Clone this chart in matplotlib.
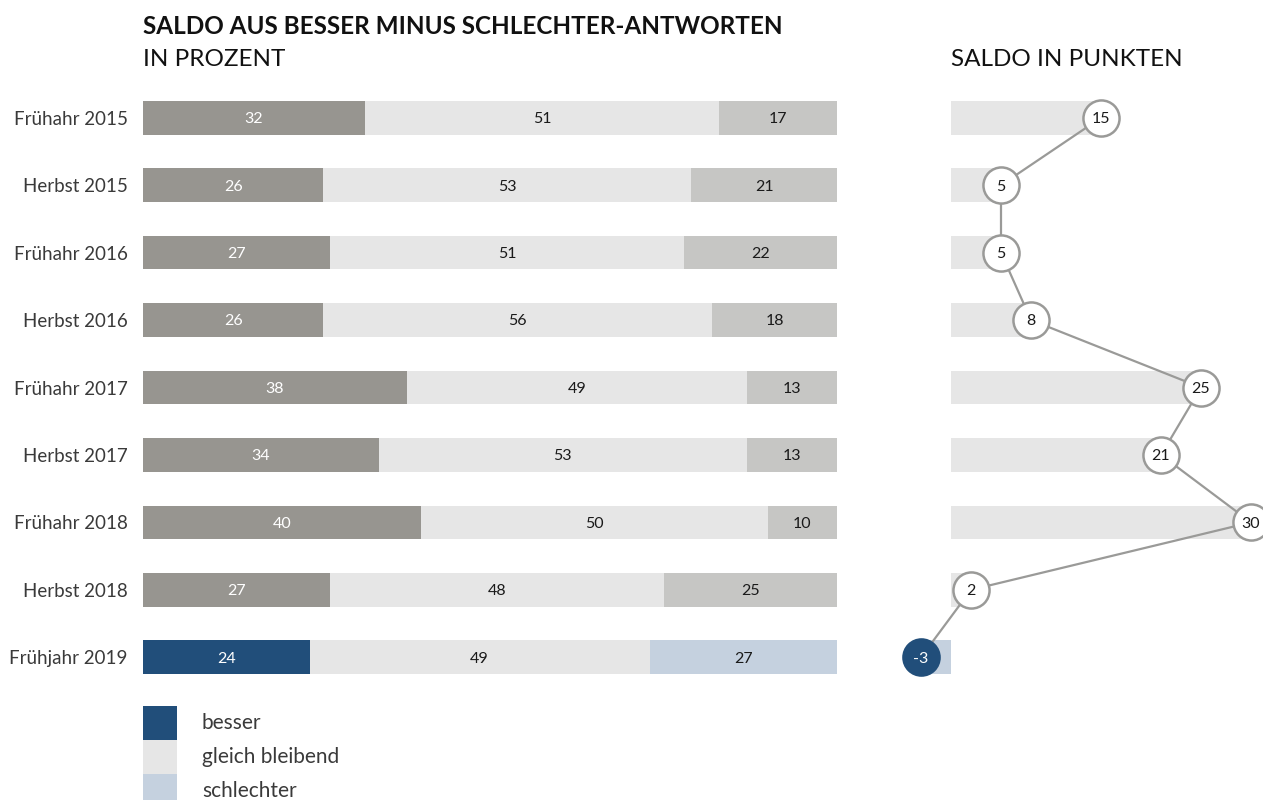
import numpy as np
import matplotlib
matplotlib.use("Agg")
import matplotlib.pyplot as plt
from matplotlib.patches import Rectangle

PERIODS = ["Frühahr 2015", "Herbst 2015", "Frühahr 2016", "Herbst 2016",
           "Frühahr 2017", "Herbst 2017", "Frühahr 2018", "Herbst 2018",
           "Frühjahr 2019"]
BESSER = [32, 26, 27, 26, 38, 34, 40, 27, 24]
GLEICH = [51, 53, 51, 56, 49, 53, 50, 48, 49]
SCHLECHTER = [17, 21, 22, 18, 13, 13, 10, 25, 27]
SALDO = [15, 5, 5, 8, 25, 21, 30, 2, -3]
LEGEND_LABELS = ["besser", "gleich bleibend", "schlechter"]

# colours: older periods greyed out, the latest highlighted
DARK_GREY = "#979590"
LIGHT_GREY = "#e6e6e6"
MID_GREY = "#c6c6c4"
NAVY = "#214e7a"
LIGHT_BLUE = "#c5d1df"
LINE_GREY = "#9a9a98"

plt.rcParams["font.family"] = ["Lato", "DejaVu Sans"]

W, H = 1263, 800
fig = plt.figure(figsize=(W / 100, H / 100), dpi=100)


def px_axes(x0, y0, x1, y1):
    return fig.add_axes([x0 / W, 1 - y1 / H, (x1 - x0) / W, (y1 - y0) / H])


# ── left: stacked percent bars ─────────────────────────────────────────────
ax = px_axes(143, 84, 837, 691)
n = len(PERIODS)
y = np.arange(n)
last = n - 1
col_b = [NAVY if i == last else DARK_GREY for i in range(n)]
col_s = [LIGHT_BLUE if i == last else MID_GREY for i in range(n)]

b = np.array(BESSER)
g = np.array(GLEICH)
s = np.array(SCHLECHTER)
ax.barh(y, b, height=0.5, color=col_b, linewidth=0)
ax.barh(y, g, left=b, height=0.5, color=LIGHT_GREY, linewidth=0)
ax.barh(y, s, left=b + g, height=0.5, color=col_s, linewidth=0)

NUM_FS = 11.5
for i in range(n):
    yy = y[i] + 0.02
    ax.text(b[i] / 2, yy, str(b[i]), ha="center", va="center",
            fontsize=NUM_FS, color="white")
    ax.text(b[i] + g[i] / 2, yy, str(g[i]), ha="center", va="center",
            fontsize=NUM_FS, color="#1a1a1a")
    ax.text(b[i] + g[i] + s[i] / 2, yy, str(s[i]), ha="center", va="center",
            fontsize=NUM_FS, color="#1a1a1a")

ax.set_xlim(0, 100)
ax.set_ylim(n - 0.5, -0.5)
ax.set_yticks(y)
ax.set_yticklabels(PERIODS, fontsize=13.5, color="#3a3a3a")
ax.tick_params(axis="y", length=0, pad=11)
ax.set_xticks([])
for sp in ax.spines.values():
    sp.set_visible(False)

# ── right: saldo in points ─────────────────────────────────────────────────
ax2 = px_axes(881, 84, 1263, 691)
bar_cols = [LIGHT_BLUE if v < 0 else LIGHT_GREY for v in SALDO]
ax2.barh(y, SALDO, height=0.5, color=bar_cols, linewidth=0)
ax2.plot(SALDO, y, color=LINE_GREY, lw=1.6, zorder=2, clip_on=False)
for i, v in enumerate(SALDO):
    face = NAVY if i == last else "white"
    edge = NAVY if i == last else LINE_GREY
    ax2.plot(v, y[i], "o", ms=26, mfc=face, mec=edge, mew=1.8,
             zorder=3, clip_on=False)
    ax2.text(v, y[i] + 0.02, str(v), ha="center", va="center",
             fontsize=NUM_FS, color="white" if i == last else "#1a1a1a",
             zorder=4)
ax2.set_xlim(-7, 31.2)
ax2.set_ylim(n - 0.5, -0.5)
ax2.axis("off")

# ── titles ────────────────────────────────────────────────────────────────
fig.text(143 / W, 1 - 27 / H, "SALDO AUS BESSER MINUS SCHLECHTER-ANTWORTEN",
         fontsize=17.5, fontweight="bold", color="#111111", va="center")
fig.text(143 / W, 1 - 60 / H, "IN PROZENT", fontsize=17.5, color="#111111",
         va="center")
fig.text(951 / W, 1 - 60 / H, "SALDO IN PUNKTEN", fontsize=17.5,
         color="#111111", va="center")

# ── legend ────────────────────────────────────────────────────────────────
leg_cols = [NAVY, LIGHT_GREY, LIGHT_BLUE]
for k, (lab, c) in enumerate(zip(LEGEND_LABELS, leg_cols)):
    top = 706 + k * 34
    fig.patches.append(Rectangle((143 / W, 1 - (top + 34) / H), 34 / W, 34 / H,
                                 transform=fig.transFigure, color=c, lw=0))
    fig.text(202 / W, 1 - (top + 17) / H, lab, fontsize=15, color="#3a3a3a",
             va="center")

fig.savefig("out.png", dpi=100)
